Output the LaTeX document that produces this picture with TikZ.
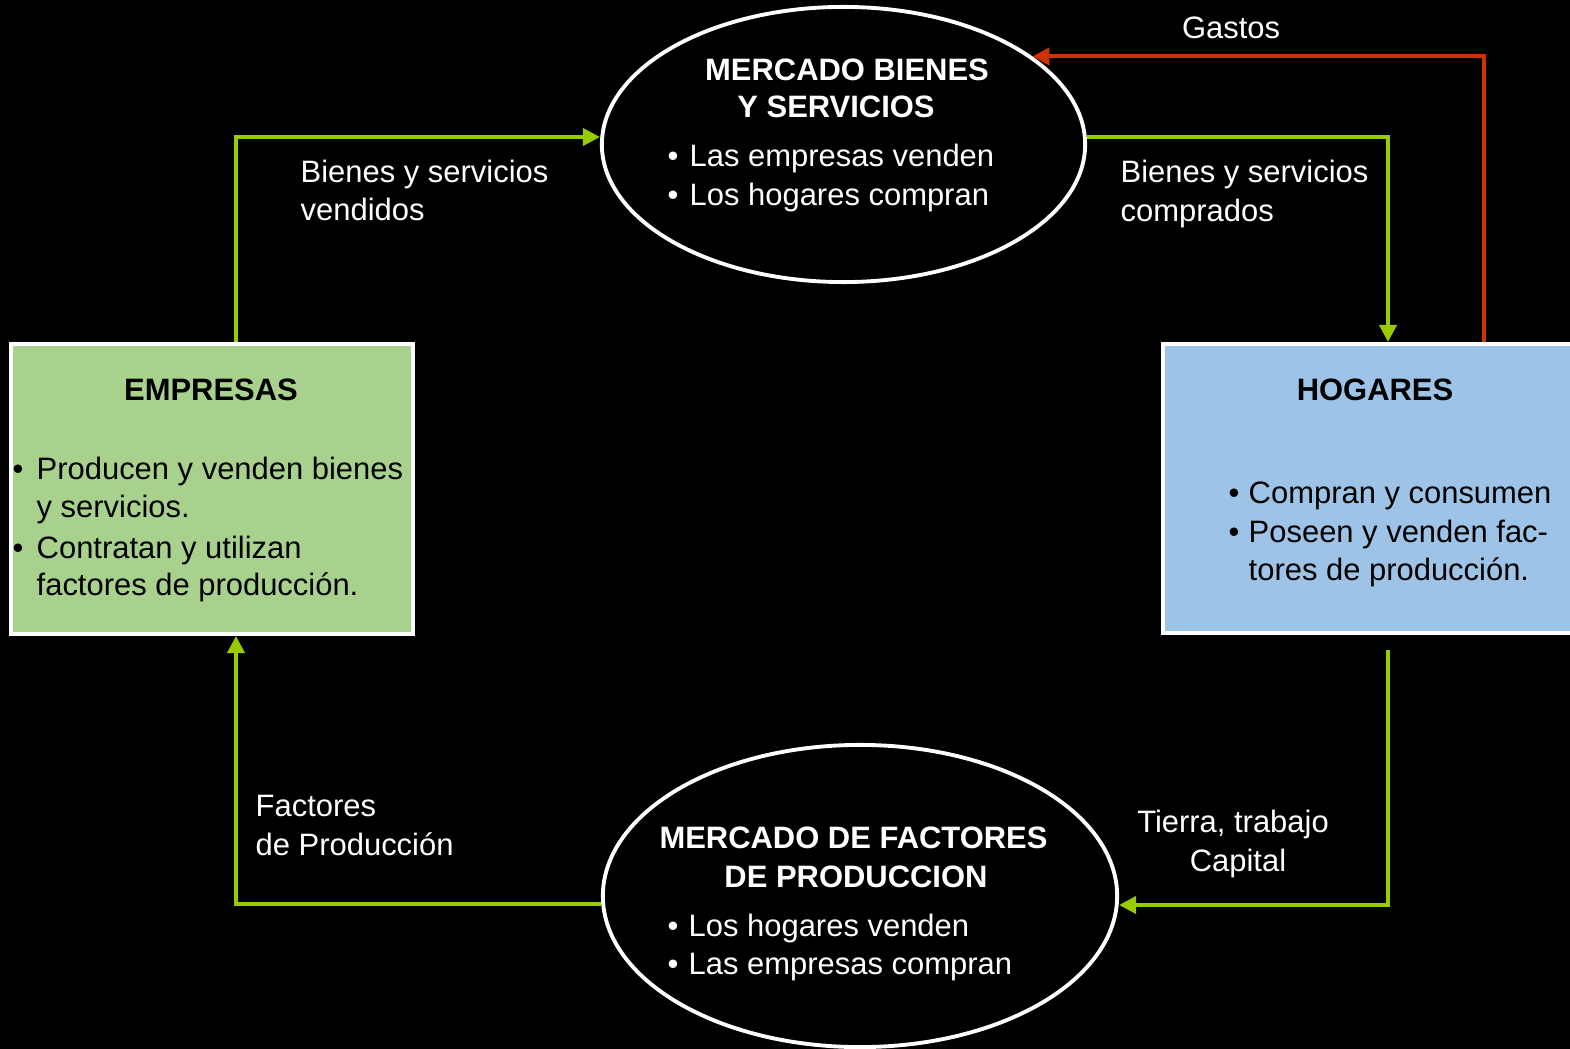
\documentclass[tikz,border=0pt]{standalone}
\usepackage{fontspec}
\setmainfont{Liberation Sans}
\usetikzlibrary{shapes.geometric,arrows.meta,calc}
\definecolor{verdeflujo}{RGB}{153,204,0}
\definecolor{rojogasto}{RGB}{204,51,0}
\definecolor{verdecaja}{RGB}{169,209,142}
\definecolor{azulcaja}{RGB}{157,195,230}

\begin{document}
\begin{tikzpicture}[x=0.01cm,y=-0.01cm,
    every node/.style={font=\fontsize{8.8pt}{10.95pt}\selectfont,inner sep=0pt},
    mercado/.style={ellipse,draw=white,line width=1.1pt},
    caja/.style={rectangle,draw=white,line width=1.1pt},
    flujo/.style={draw=verdeflujo,line width=1.1pt,-{Triangle[length=0.17cm,width=0.17cm]}},
    gasto/.style={flujo,draw=rojogasto}]
    \fill[black] (0,0) rectangle (1570,1049);
    \useasboundingbox (0,0) rectangle (1570,1049);

    \node[caja,fill=verdecaja,minimum width=4.02cm,minimum height=2.90cm] (emp) at (212,489) {};
    \node[caja,fill=azulcaja,minimum width=4.27cm,minimum height=2.89cm] (hog) at (1376.5,488.5) {};
    \node[mercado,minimum width=4.83cm,minimum height=2.75cm] (mbs) at (843.5,144.5) {};
    \node[mercado,minimum width=5.14cm,minimum height=3.02cm] (mfp) at (860,896) {};

    % titulos
    \begin{scope}[every node/.append style={font=\fontsize{8.8pt}{10.95pt}\selectfont\bfseries,anchor=base}]
      \node[text=white] (mbs-t1) at (847,81) {MERCADO BIENES};
      \node[text=white] (mbs-t2) at (836,118) {Y SERVICIOS};
      \node[text=white] (mfp-t1) at (853.5,848) {MERCADO DE FACTORES};
      \node[text=white] (mfp-t2) at (856,887) {DE PRODUCCION};
      \node[text=black] (emp-t) at (211,400) {EMPRESAS};
      \node[text=black] (hog-t) at (1375,400) {HOGARES};
    \end{scope}

    % vinetas
    \foreach \n/\c/\bx/\tx/\y/\b/\t in {
        mbs1/white/673/689/167/1/Las empresas venden,
        mbs2/white/673/689/206/1/Los hogares compran,
        mfp1/white/673/688/936/1/Los hogares venden,
        mfp2/white/673/688/974/1/Las empresas compran,
        emp1/black/18/36/479/1/Producen y venden bienes,
        emp2/black/18/36/518/0/y servicios.,
        emp3/black/18/36/558/1/Contratan y utilizan,
        emp4/black/18/36/595/0/factores de producción.,
        hog1/black/1234/1248/503/1/Compran y consumen,
        hog2/black/1234/1248/542/1/Poseen y venden fac-,
        hog3/black/1234/1248/580/0/tores de producción.}{
      \node[text=\c,anchor=base west] (\n-txt) at (\tx,\y) {\t};
      \ifnum\b=1
        \node[text=\c,anchor=base] (\n-bul) at (\bx,\y) {\textbullet};
      \fi
    }

    % etiquetas de los flujos
    \begin{scope}[every node/.append style={text=white}]
      \node[anchor=base west] (vend1) at (300,183) {Bienes y servicios};
      \node[anchor=base west] (vend2) at (300,221) {vendidos};
      \node[anchor=base west] (comp1) at (1120,183) {Bienes y servicios};
      \node[anchor=base west] (comp2) at (1120,222) {comprados};
      \node[anchor=base] (gastos) at (1231,39) {Gastos};
      \node[anchor=base west] (fact1) at (255,816) {Factores};
      \node[anchor=base west] (fact2) at (255,855) {de Producción};
      \node[anchor=base] (tierra1) at (1233,832) {Tierra, trabajo};
      \node[anchor=base] (tierra2) at (1238,871) {Capital};
    \end{scope}

    \coordinate (k1) at (236,137);
    \coordinate (k2) at (1388,137);
    \coordinate (k3) at (1484,57);
    \coordinate (k4) at (1388,905);
    \coordinate (k5) at (236,904);
    \coordinate (hogsal) at (1388,650);

    \draw[flujo] (emp.north -| k1) |- (mbs.west |- k1);
    \draw[flujo] (mbs.east |- k2) -| (hog.north -| k2);
    \draw[gasto] (hog.north -| k3) |- (mbs.25);
    \draw[flujo] (hogsal) |- (mfp.east |- k4);
    \draw[flujo] (mfp.west |- k5) -| (emp.south -| k5);
  \end{tikzpicture}
\end{document}
